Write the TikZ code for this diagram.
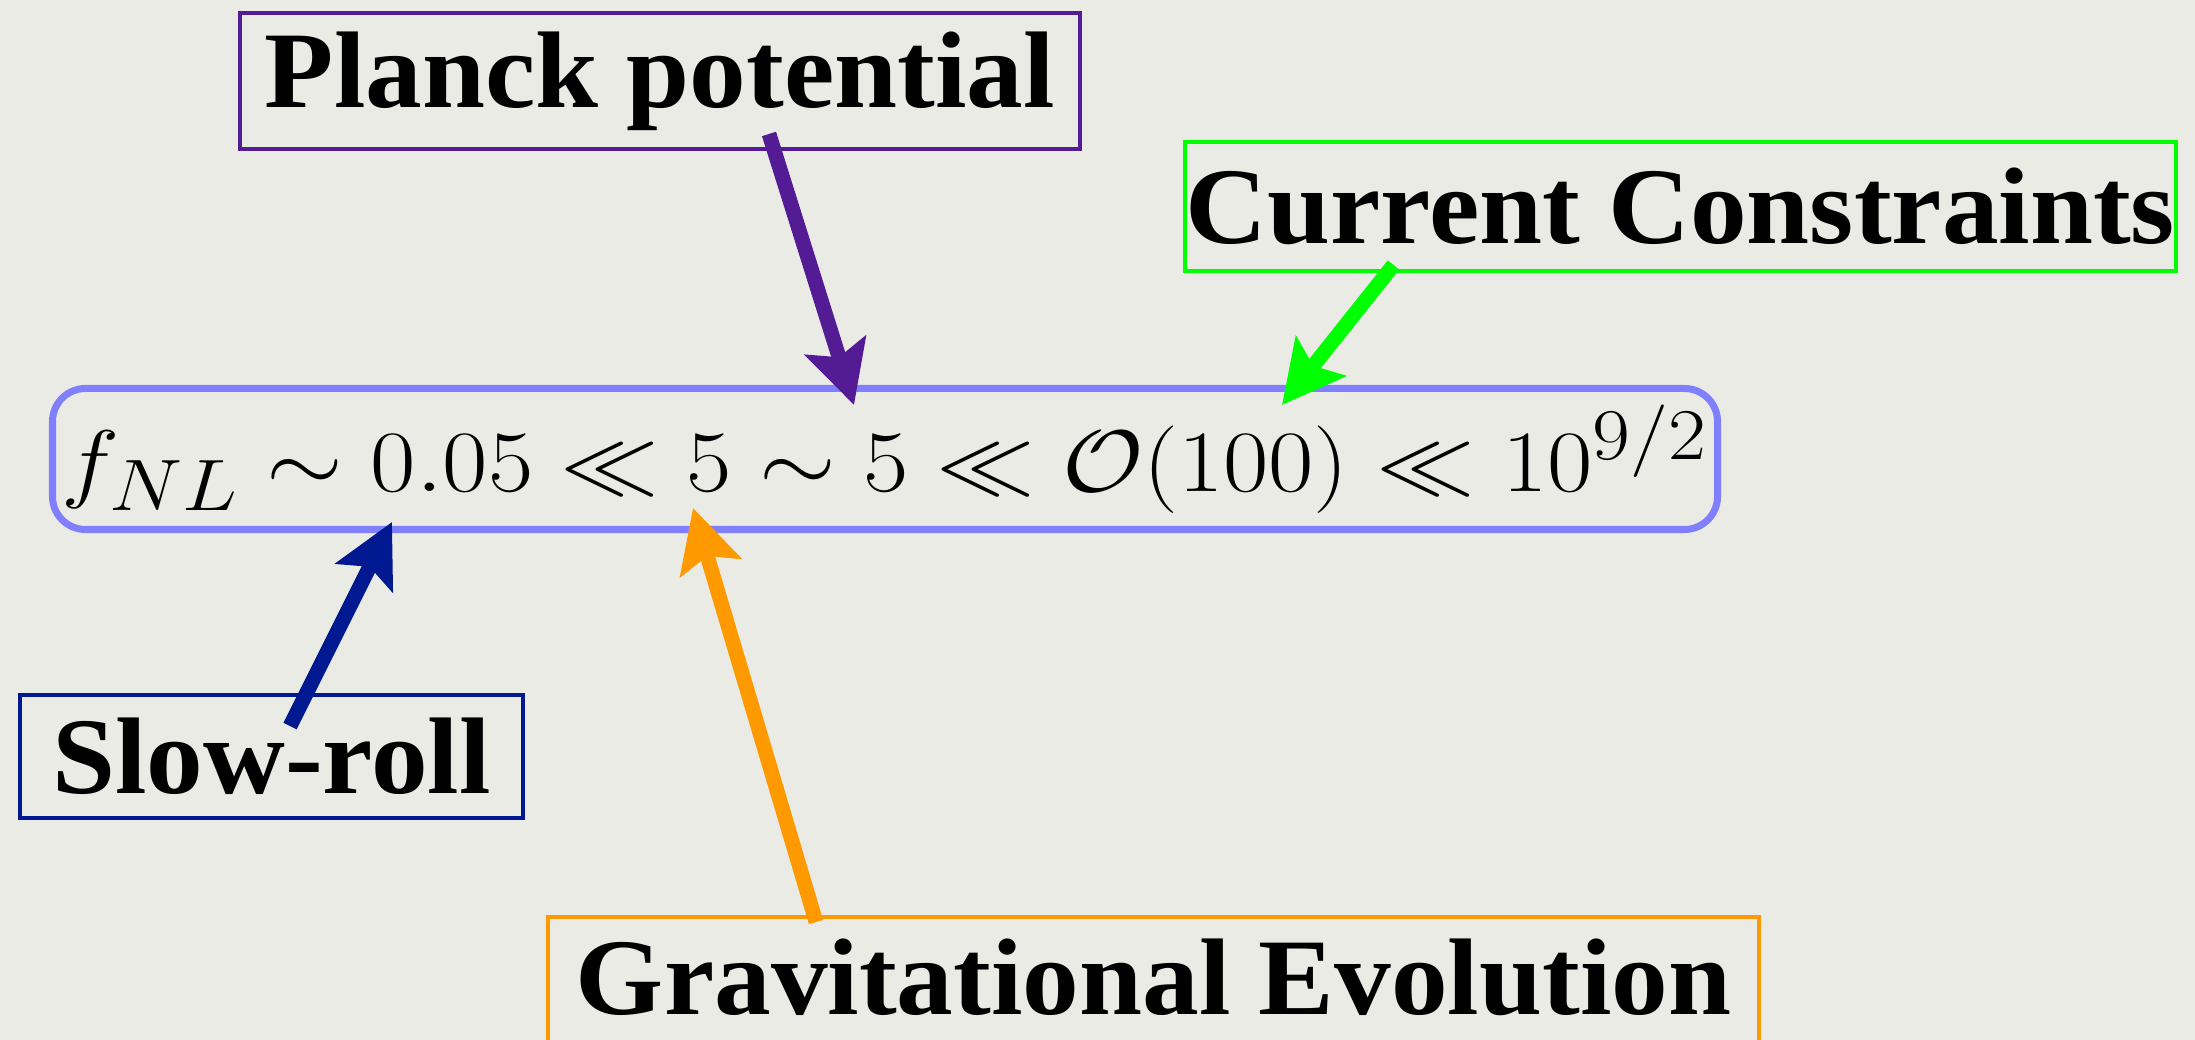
\documentclass[tikz,border=0pt]{standalone}
\usepackage{amsmath, amssymb}
\usepackage{fontspec}
\newfontfamily\labelfont{Liberation Serif}[FakeStretch=1.04]
\usepackage{tikz}
\usetikzlibrary{arrows.meta, calc, positioning}
\usepackage{xcolor}
\definecolor{bgcol}{RGB}{235,235,230}
\definecolor{eqcol}{RGB}{128,128,255}
\definecolor{planckcol}{RGB}{84,28,148}
\definecolor{currentcol}{RGB}{0,255,0}
\definecolor{slowcol}{RGB}{0,25,145}
\definecolor{gravcol}{RGB}{255,153,0}

\begin{document}
\begin{tikzpicture}[
    box/.style={rectangle, draw, line width=1.2pt, inner sep=0pt, align=center, font=\fontsize{31}{37}\selectfont\labelfont\bfseries},
    eqbox/.style={rectangle, draw=eqcol, line width=2pt, rounded corners=3.3mm, inner sep=0pt, minimum width=16.65cm, minimum height=1.41cm, font=\fontsize{29}{34}\selectfont},
    arrow/.style={-{Stealth[length=6.2mm, width=6.3mm, inset=1.2mm]}, line width=4.2pt}
]
    % background
    \useasboundingbox (0,0) rectangle (21.95,10.40);
    \fill[bgcol] (0,0) rectangle (21.95,10.40);

    % the estimate
    \node[eqbox] (eq) at (8.85,5.81) {\scalebox{1.128}[1]{$f_{NL} \sim 0.05 \ll 5 \sim 5 \ll \mathcal{O}(100) \ll 10^{9/2}$}};

    % labels
    \node[box, draw=planckcol, minimum width=8.40cm, minimum height=1.36cm, above=2.34cm of eq, xshift=-2.25cm] (planck) {Planck potential};
    \node[box, draw=currentcol, minimum width=9.91cm, minimum height=1.29cm, above=1.12cm of eq, xshift=7.955cm] (current) {Current Constraints};
    \node[box, draw=slowcol, minimum width=5.03cm, minimum height=1.23cm, below=1.60cm of eq, xshift=-6.135cm] (slowroll) {Slow-roll};
    \node[box, draw=gravcol, minimum width=12.11cm, minimum height=1.38cm, text depth=0.18cm, below=3.82cm of eq, xshift=2.685cm] (grav) {Gravitational Evolution};

    % arrows
    \draw[arrow, planckcol] ([xshift=1.09cm, yshift=0.17cm]planck.south) -- ([xshift=-0.31cm, yshift=-0.20cm]eq.north);
    \draw[arrow, currentcol] ([xshift=-2.87cm, yshift=0.08cm]current.south) -- ([xshift=3.97cm, yshift=-0.20cm]eq.north);
    \draw[arrow, slowcol] ([xshift=0.185cm, yshift=-0.33cm]slowroll.north) -- ([xshift=-4.93cm, yshift=0.11cm]eq.south);
    \draw[arrow, gravcol] ([xshift=-3.375cm, yshift=-0.07cm]grav.north) -- ([xshift=-1.92cm, yshift=0.25cm]eq.south);
\end{tikzpicture}
\end{document}
